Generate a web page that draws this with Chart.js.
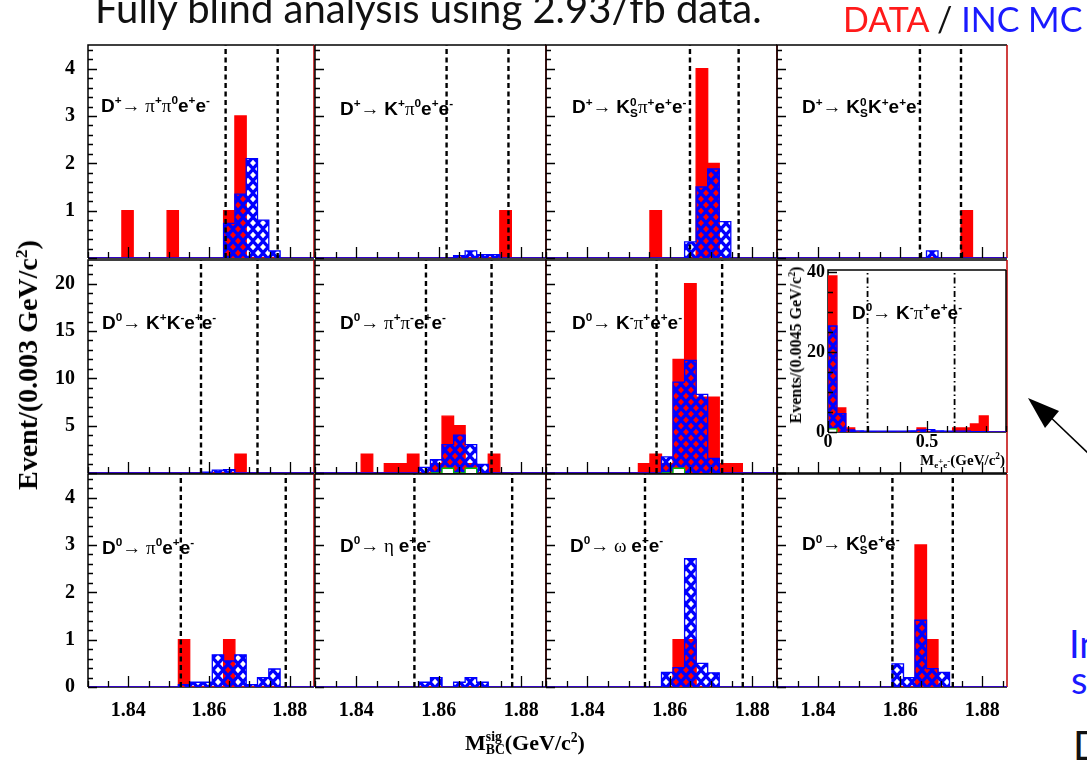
<!DOCTYPE html>
<html>
<head>
<meta charset="utf-8">
<title>M_BC sig — blind analysis panels</title>
<script src="https://cdn.jsdelivr.net/npm/chart.js@4.4.1/dist/chart.umd.min.js"></script>
<style>
  html, body { margin: 0; padding: 0; background: #fff; }
  #fig { position: relative; width: 1087px; height: 763px; overflow: hidden; background: #fff; }
  .cv { position: absolute; }
  .lbl { position: absolute; font: bold 19px 'Liberation Sans', Arial, sans-serif; color: #000;
         white-space: nowrap; line-height: 1; transform: translateY(-50%); }
  .lbl sup, .axt sup { font-size: 0.62em; vertical-align: 0.6em; line-height: 0; }
  .g { font-family: 'Liberation Serif', serif; font-weight: normal; }
  .ks { display: inline-block; vertical-align: -0.34em; font-size: 0.62em; line-height: 0.92; }
  .ks b { display: block; }
  .axt { position: absolute; font-family: 'Liberation Serif', serif; font-weight: bold; color: #000;
         white-space: nowrap; line-height: 1; }
  .sb { font-size: 0.6em; vertical-align: -0.35em; line-height: 0; }
  .sb sup { font-size: 1em; vertical-align: 0.4em; }
  .top { position: absolute; font-family: Lato, 'Open Sans', sans-serif; white-space: nowrap; line-height: 1; }
</style>
</head>
<body>
<div id="fig"></div>
<script>
// ── Binning (M_BC panels: 20 bins, inset M_ee: 20 bins) ─────────────
const mbcEdges = [1.83, 1.8328, 1.8356, 1.8384, 1.8412, 1.844, 1.8468, 1.8496, 1.8524, 1.8552,
                  1.858, 1.8608, 1.8636, 1.8664, 1.8692, 1.872, 1.8748, 1.8776, 1.8804, 1.8832, 1.886];
const meeEdges = [0, 0.045, 0.09, 0.135, 0.18, 0.225, 0.27, 0.315, 0.36, 0.405,
                  0.45, 0.495, 0.54, 0.585, 0.63, 0.675, 0.72, 0.765, 0.81, 0.855, 0.9];

// ── Tick labels ──────────────────────────────────────────────
const mbcTicks = [1.84, 1.86, 1.88];
const yTicksRow1 = [1, 2, 3, 4];
const yTicksRow2 = [5, 10, 15, 20];
const yTicksRow3 = [0, 1, 2, 3, 4];
const meeXTicks = [0, 0.5];
const meeYTicks = [0, 20, 40];

// ── Row 1 : D+ modes ─────────────────────────────────────────
const dpPiPi0Data = [0,0,0,1,0,0,0,1,0,0,0,0,1,3,0,0,0,0,0,0];
const dpPiPi0Mc   = [0,0,0,0,0,0,0,0,0,0,0,0,0.73,1.35,2.1,0.8,0.15,0,0,0];
const dpPiPi0Cuts = [1.8641, 1.877];

const dpKPi0Data = [0,0,0,0,0,0,0,0,0,0,0,0,0,0,0,0,1,0,0,0];
const dpKPi0Mc   = [0,0,0,0,0,0,0,0,0,0,0,0,0.05,0.15,0.07,0.07,0,0,0,0];
const dpKPi0Cuts = [1.8619, 1.8769];

const dpKsPiData = [0,0,0,0,0,0,0,0,0,1,0,0,0,4,2,0,0,0,0,0];
const dpKsPiMc   = [0,0,0,0,0,0,0,0,0,0,0,0,0.34,1.5,1.88,0.77,0,0,0,0];
const dpKsPiCuts = [1.8649, 1.8767];

const dpKsKData = [0,0,0,0,0,0,0,0,0,0,0,0,0,0,0,0,1,0,0,0];
const dpKsKMc   = [0,0,0,0,0,0,0,0,0,0,0,0,0,0.15,0,0,0,0,0,0];
const dpKsKCuts = [1.8648, 1.8748];

// ── Row 2 : D0 modes ─────────────────────────────────────────
const d0KKData = [0,0,0,0,0,0,0,0,0,0,0,0,0,2,0,0,0,0,0,0];
const d0KKMc   = [0,0,0,0,0,0,0,0,0,0,0.1,0.3,0.35,0,0,0,0,0,0,0];
const d0KKCuts = [1.858, 1.872];

const d0PiPiData = [0,0,0,0,2,0,1,1,2,0,1,6,5,1,0,2,0,0,0,0];
const d0PiPiMc   = [0,0,0,0,0,0,0,0,0,0.6,1.4,3.0,4.0,3.0,0.9,0,0,0,0,0];
const d0PiPiBkg  = [0,0,0,0,0,0,0,0,0,0,0,0.5,0,0.5,0,0,0,0,0,0];
const d0PiPiCuts = [1.8569, 1.8728];

const d0KPiData = [0,0,0,0,0,0,0,0,1,2,1,12,20,8,8,1,1,0,0,0];
const d0KPiMc   = [0,0,0,0,0,0,0,0,0,0,1.7,9.6,11.9,8.3,1.55,0,0,0,0,0];
const d0KPiBkg  = [0,0,0,0,0,0,0,0,0,0,0,0.5,0,0,0,0,0,0,0,0];
const d0KPiCuts = [1.8568, 1.8727];

// inset : M(e+e-) for D0 -> K- pi+ e+ e-
const meeData = [39,6,1,0,0,0,0,0,0,0,1,0,0,0,1,1,2,4,0,0];
const meeMc   = [26.5,4.6,0.5,0.3,0.2,0.2,0.2,0.2,0.2,0.3,0.5,0.6,0.3,0.2,0.2,0.2,0.1,0.1,0,0];
const meeBkg  = [0.8,0,0,0,0,0,0,0,0,0,0,0,0,0,0,0,0,0,0,0];
const meeCuts = [0.2, 0.64];

// ── Row 3 : D0 modes ─────────────────────────────────────────
const d0Pi0Data = [0,0,0,0,0,0,0,0,1,0,0,0,1,0,0,0,0,0,0,0];
const d0Pi0Mc   = [0,0,0,0,0,0,0,0,0.05,0.1,0.1,0.68,0.55,0.68,0.05,0.2,0.38,0,0,0];
const d0Pi0Cuts = [1.853, 1.879];

const d0EtaData = [0,0,0,0,0,0,0,0,0,0,0,0,0,0,0,0,0,0,0,0];
const d0EtaMc   = [0,0,0,0,0,0,0,0,0,0.1,0.2,0,0.1,0.2,0.1,0,0,0,0,0];
const d0EtaCuts = [1.8541, 1.8778];

const d0OmegaData = [0,0,0,0,0,0,0,0,0,0,0,1,1,0,0,0,0,0,0,0];
const d0OmegaMc   = [0,0,0,0,0,0,0,0,0,0,0.31,0.41,2.71,0.5,0.3,0,0,0,0,0];
const d0OmegaCuts = [1.854, 1.8777];

const d0KsData = [0,0,0,0,0,0,0,0,0,0,0,0,3,1,0,0,0,0,0,0];
const d0KsMc   = [0,0,0,0,0,0,0,0,0,0,0.49,0.2,1.41,0.39,0.31,0,0,0,0,0];
const d0KsCuts = [1.8581, 1.8728];

// ── Layout ───────────────────────────────────────────────────
const COLS = [[88, 314], [315, 546], [546, 777], [777, 1007]];
const ROWS = [[45, 258], [260, 473], [474, 687]];
const ROW_YMAX = [4.5, 22.5, 4.5];
const ROW_YTICKS = [yTicksRow1, yTicksRow2, yTicksRow3];
const ROW_YSTEP = [0.2, 1, 0.2];
const ROW_YMAJOR = [1, 5, 1];
// canvas margins around each plot area (big enough that Chart.js never shrinks the area)
const ML = 50, MT = 32, MR = 40, MB = 52;

const C = {
    data:  '#ff0000',
    mc:    '#0000ff',
    bkg:   '#00c800',
    cut:   '#000000',
    frame: '#000000',
    edge:  '#c00000'
};
const TICK_FONT = { family: "'Liberation Serif', serif", weight: 'bold', size: 20 };

const fig = document.getElementById('fig');

// blue cross-hatch with see-through diamonds
const hatch = (() => {
    const c = document.createElement('canvas');
    c.width = 10; c.height = 12;
    const g = c.getContext('2d');
    g.fillStyle = C.mc;
    g.fillRect(0, 0, 10, 12);
    g.globalCompositeOperation = 'destination-out';
    [[0, 0], [10, 0], [0, 12], [10, 12], [5, 6]].forEach(([x, y]) => {
        g.beginPath();
        g.moveTo(x, y - 3.3); g.lineTo(x + 3.0, y); g.lineTo(x, y + 3.3); g.lineTo(x - 3.0, y);
        g.closePath(); g.fill();
    });
    return g.createPattern(c, 'repeat');
})();

// frame + inward ROOT-style ticks
const frameTicks = {
    id: 'frameTicks',
    beforeDatasetsDraw(chart, args, o) {
        const { ctx, chartArea: a } = chart;
        ctx.save();
        ctx.lineWidth = 1.5;
        ctx.strokeStyle = C.frame;
        ctx.beginPath();
        ctx.moveTo(a.left, a.bottom); ctx.lineTo(a.left, a.top); ctx.lineTo(a.right, a.top);
        ctx.moveTo(a.left, a.bottom); ctx.lineTo(a.right, a.bottom);
        ctx.stroke();
        ctx.strokeStyle = o.edge;
        ctx.beginPath(); ctx.moveTo(a.right, a.top); ctx.lineTo(a.right, a.bottom); ctx.stroke();
        ctx.restore();
    },
    afterDatasetsDraw(chart, args, o) {
        const { ctx, chartArea: a, scales: { x, y } } = chart;
        ctx.save();
        ctx.strokeStyle = '#000';
        ctx.lineWidth = 1.3;
        ctx.beginPath();
        for (let i = 0; ; i++) {
            const v = x.min + i * o.xStep;
            if (v > x.max + 1e-9) break;
            const px = Math.round(x.getPixelForValue(v)) + 0.5;
            const major = o.xMajor.some(m => Math.abs(m - v) < 1e-6);
            ctx.moveTo(px, a.bottom); ctx.lineTo(px, a.bottom - (major ? 11 : 6));
        }
        for (let i = 0; ; i++) {
            const v = y.min + i * o.yStep;
            if (v > y.max + 1e-9) break;
            const py = Math.round(y.getPixelForValue(v)) + 0.5;
            const r = v / o.yMajor;
            const major = Math.abs(r - Math.round(r)) < 1e-6;
            ctx.moveTo(a.left, py); ctx.lineTo(a.left + (major ? 9 : 5), py);
        }
        ctx.stroke();
        ctx.restore();
    }
};

function histPoints(edges, vals) {
    const pts = [{ x: edges[0], y: 0 }];
    vals.forEach((v, i) => pts.push({ x: edges[i], y: v }));
    pts.push({ x: edges[vals.length], y: 0 });
    return pts;
}

function histSet(edges, vals, border, bg, order, hideBase) {
    const ds = {
        data: histPoints(edges, vals),
        stepped: 'before',
        borderColor: border,
        backgroundColor: bg,
        borderWidth: 1.3,
        fill: 'origin',
        pointRadius: 0,
        order
    };
    if (hideBase) {
        // no outline along the empty baseline
        ds.segment = { borderColor: s => (s.p0.parsed.y === 0 && s.p1.parsed.y === 0) ? 'rgba(0,0,0,0)' : undefined };
    }
    return ds;
}

function cutSets(cuts, yMax, dash, width) {
    return cuts.map(c => ({
        data: [{ x: c, y: 0 }, { x: c, y: yMax }],
        borderColor: C.cut,
        borderWidth: width,
        borderDash: dash,
        fill: false,
        pointRadius: 0,
        order: 0
    }));
}

function makeCanvas(left, top, w, h) {
    const cv = document.createElement('canvas');
    cv.className = 'cv';
    cv.width = w; cv.height = h;
    cv.style.left = left + 'px';
    cv.style.top = top + 'px';
    fig.appendChild(cv);
    return cv;
}

function addPanel(p) {
    const [x0, x1] = COLS[p.col], [y0, y1] = ROWS[p.row];
    const cv = makeCanvas(x0 - ML, y0 - MT, x1 - x0 + ML + MR, y1 - y0 + MT + MB);
    const yMax = ROW_YMAX[p.row];

    const datasets = cutSets(p.cuts || [], yMax, [5, 3.5], 2.4);
    if (p.bkg) datasets.push(histSet(mbcEdges, p.bkg, C.bkg, '#ffffff', 1, true));
    if (p.mc) datasets.push(histSet(mbcEdges, p.mc, C.mc, hatch, 2));
    if (p.data) datasets.push(histSet(mbcEdges, p.data, C.data, C.data, 3));

    new Chart(cv, {
        type: 'line',
        data: { datasets },
        options: {
            responsive: false,
            animation: false,
            devicePixelRatio: 1,
            events: [],
            layout: { padding: { top: MT, right: MR, left: 0, bottom: 0 } },
            plugins: {
                legend: { display: false },
                tooltip: { enabled: false },
                frameTicks: { xStep: 0.005, xMajor: mbcTicks, yStep: ROW_YSTEP[p.row], yMajor: ROW_YMAJOR[p.row], edge: C.edge }
            },
            scales: {
                x: {
                    type: 'linear',
                    min: mbcEdges[0],
                    max: mbcEdges[mbcEdges.length - 1],
                    grid: { display: false, drawTicks: false },
                    border: { display: false },
                    ticks: { display: p.row === 2, color: '#000', font: TICK_FONT, padding: 12, maxRotation: 0, autoSkip: false, callback: v => String(v) },
                    afterBuildTicks: s => { s.ticks = mbcTicks.map(v => ({ value: v })); },
                    afterFit: s => { s.height = MB; }
                },
                y: {
                    type: 'linear',
                    min: 0,
                    max: yMax,
                    grid: { display: false, drawTicks: false },
                    border: { display: false },
                    ticks: { display: p.col === 0, color: '#000', font: TICK_FONT, padding: 13, autoSkip: false, callback: v => String(v) },
                    afterBuildTicks: s => { s.ticks = ROW_YTICKS[p.row].map(v => ({ value: v })); },
                    afterFit: s => { s.width = ML; }
                }
            }
        },
        plugins: [frameTicks]
    });

    if (p.label) addText('lbl', p.label, p.at[0], p.at[1]);
}

function addInset() {
    const L = 828, T = 270, R = 1006, B = 432;
    const iml = 40, imt = 20, imr = 24, imb = 34;
    const cv = makeCanvas(L - iml, T - imt, R - L + iml + imr, B - T + imt + imb);
    const yMax = 40.5;
    const datasets = cutSets(meeCuts, yMax, [6, 3, 1.5, 3], 1.8);
    datasets.push(histSet(meeEdges, meeBkg, C.bkg, '#ffffff', 1, true));
    datasets.push(histSet(meeEdges, meeMc, C.mc, hatch, 2));
    datasets.push(histSet(meeEdges, meeData, C.data, C.data, 3));
    const font = { family: "'Liberation Serif', serif", weight: 'bold', size: 18 };

    new Chart(cv, {
        type: 'line',
        data: { datasets },
        options: {
            responsive: false,
            animation: false,
            devicePixelRatio: 1,
            events: [],
            layout: { padding: { top: imt, right: imr, left: 0, bottom: 0 } },
            plugins: {
                legend: { display: false },
                tooltip: { enabled: false },
                frameTicks: { xStep: 0.1, xMajor: meeXTicks, yStep: 5, yMajor: 20, edge: C.frame }
            },
            scales: {
                x: {
                    type: 'linear', min: meeEdges[0], max: meeEdges[meeEdges.length - 1],
                    grid: { display: false, drawTicks: false }, border: { display: false },
                    ticks: { color: '#000', font, padding: 0, maxRotation: 0, autoSkip: false, callback: v => String(v) },
                    afterBuildTicks: s => { s.ticks = meeXTicks.map(v => ({ value: v })); },
                    afterFit: s => { s.height = imb; }
                },
                y: {
                    type: 'linear', min: 0, max: yMax,
                    grid: { display: false, drawTicks: false }, border: { display: false },
                    ticks: { color: '#000', font, padding: 3, autoSkip: false, callback: v => String(v) },
                    afterBuildTicks: s => { s.ticks = meeYTicks.map(v => ({ value: v })); },
                    afterFit: s => { s.width = iml; }
                }
            }
        },
        plugins: [frameTicks]
    });
}

function addText(cls, html, x, y, style) {
    const d = document.createElement('div');
    d.className = cls;
    d.innerHTML = html;
    d.style.left = x + 'px';
    d.style.top = y + 'px';
    if (style) Object.assign(d.style, style);
    fig.appendChild(d);
    return d;
}

const ARW = '<span class="g">→ </span>';
const KS = 'K<span class="ks"><b>0</b><b>S</b></span>';
const EE = 'e<sup>+</sup>e<sup>-</sup>';

const panels = [
    { row: 0, col: 0, at: [101, 105], data: dpPiPi0Data, mc: dpPiPi0Mc, cuts: dpPiPi0Cuts,
      label: 'D<sup>+</sup>' + ARW + '<span class="g">π</span><sup>+</sup><span class="g">π</span><sup>0</sup>' + EE },
    { row: 0, col: 1, at: [340, 108], data: dpKPi0Data, mc: dpKPi0Mc, cuts: dpKPi0Cuts,
      label: 'D<sup>+</sup>' + ARW + 'K<sup>+</sup><span class="g">π</span><sup>0</sup>' + EE },
    { row: 0, col: 2, at: [572, 108], data: dpKsPiData, mc: dpKsPiMc, cuts: dpKsPiCuts,
      label: 'D<sup>+</sup>' + ARW + KS + '<span class="g">π</span><sup>+</sup>' + EE },
    { row: 0, col: 3, at: [802, 108], data: dpKsKData, mc: dpKsKMc, cuts: dpKsKCuts,
      label: 'D<sup>+</sup>' + ARW + KS + 'K<sup>+</sup>' + EE },
    { row: 1, col: 0, at: [102, 322], data: d0KKData, mc: d0KKMc, cuts: d0KKCuts,
      label: 'D<sup>0</sup>' + ARW + 'K<sup>+</sup>K<sup>-</sup>' + EE },
    { row: 1, col: 1, at: [340, 322], data: d0PiPiData, mc: d0PiPiMc, bkg: d0PiPiBkg, cuts: d0PiPiCuts,
      label: 'D<sup>0</sup>' + ARW + '<span class="g">π</span><sup>+</sup><span class="g">π</span><sup>-</sup>' + EE },
    { row: 1, col: 2, at: [572, 322], data: d0KPiData, mc: d0KPiMc, bkg: d0KPiBkg, cuts: d0KPiCuts,
      label: 'D<sup>0</sup>' + ARW + 'K<sup>-</sup><span class="g">π</span><sup>+</sup>' + EE },
    { row: 1, col: 3 },
    { row: 2, col: 0, at: [102, 547], data: d0Pi0Data, mc: d0Pi0Mc, cuts: d0Pi0Cuts,
      label: 'D<sup>0</sup>' + ARW + '<span class="g">π</span><sup>0</sup>' + EE },
    { row: 2, col: 1, at: [340, 545], data: d0EtaData, mc: d0EtaMc, cuts: d0EtaCuts,
      label: 'D<sup>0</sup>' + ARW + '<span class="g">η </span>' + EE },
    { row: 2, col: 2, at: [570, 545], data: d0OmegaData, mc: d0OmegaMc, cuts: d0OmegaCuts,
      label: 'D<sup>0</sup>' + ARW + '<span class="g">ω </span>' + EE },
    { row: 2, col: 3, at: [802, 545], data: d0KsData, mc: d0KsMc, cuts: d0KsCuts,
      label: 'D<sup>0</sup>' + ARW + KS + EE }
];

panels.forEach(addPanel);
addInset();

// inset texts
addText('lbl', 'D<sup>0</sup>' + ARW + 'K<sup>-</sup><span class="g">π</span><sup>+</sup>' + EE, 852, 312, { fontSize: '19px' });
addText('axt', 'Events/(0.0045 GeV/c<sup>2</sup>)', 796, 345,
        { fontSize: '16px', transform: 'translate(-50%,-50%) rotate(-90deg)' });
addText('axt', 'M<span class="sb">e<sup>+</sup>e<sup>-</sup></span>(GeV/c<sup>2</sup>)', 1005, 460,
        { fontSize: '15px', transform: 'translate(-100%,-50%)' });

// main axis titles
addText('axt', 'Event/(0.003 GeV/c<sup>2</sup>)', 28, 365,
        { fontSize: '28px', transform: 'translate(-50%,-50%) rotate(-90deg)' });
addText('axt', 'M<span class="ks" style="vertical-align:-0.3em"><b>sig</b><b>BC</b></span>(GeV/c<sup>2</sup>)', 525, 744,
        { fontSize: '22px', transform: 'translate(-50%,-50%)' });

// slide texts around the figure
addText('top', 'Fully blind analysis using 2.93/fb data.', 95, -12, { fontSize: '40px', color: '#111' });
addText('top', '<span style="color:#ff1a1a">DATA</span> / <span style="color:#1a1aff">INC MC</span>', 843, 2,
        { fontSize: '34px', color: '#111' });
addText('top', 'In', 1069, 624, { fontSize: '38px', color: '#1a1aff' });
addText('top', 's', 1071, 660, { fontSize: '38px', color: '#1a1aff' });
addText('top', 'D', 1073, 725, { fontSize: '40px', color: '#111' });

// arrow pointing at the inset
fig.insertAdjacentHTML('beforeend',
    '<svg style="position:absolute;left:0;top:0" width="1087" height="763">' +
    '<line x1="1090" y1="455" x2="1045" y2="412" stroke="#000" stroke-width="1.5"/>' +
    '<polygon points="1028,398 1045,428 1059,411" fill="#000"/></svg>');
</script>
</body>
</html>
